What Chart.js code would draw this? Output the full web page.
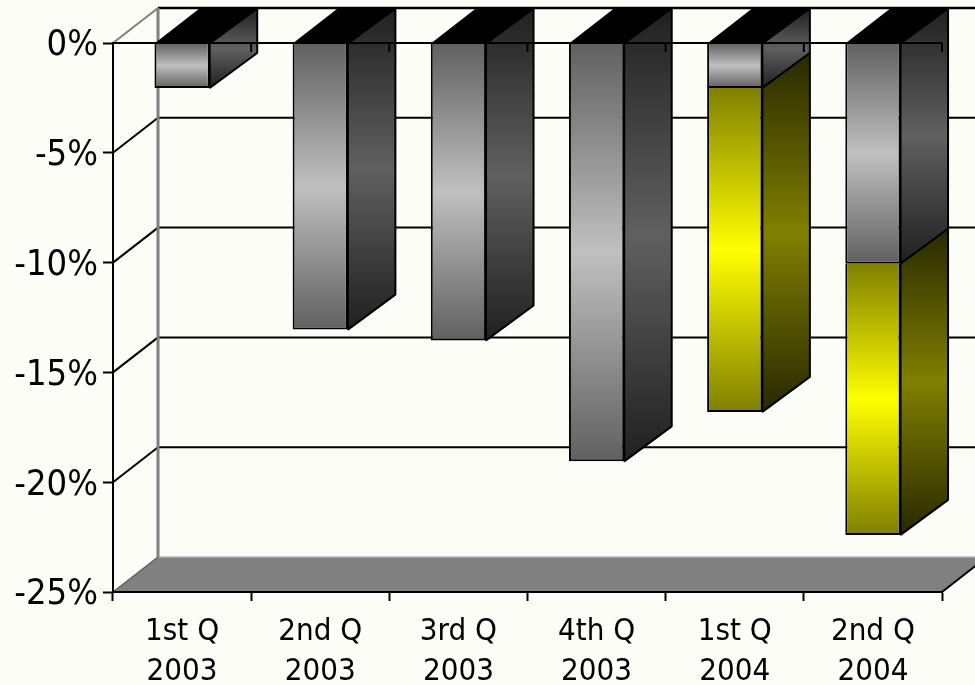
<!DOCTYPE html>
<html>
<head>
<meta charset="utf-8">
<title>Quarterly change</title>
<style>
  html, body { margin: 0; padding: 0; background: #fcfdf7; overflow: hidden; }
  canvas { display: block; }
</style>
<script src="https://cdn.jsdelivr.net/npm/chart.js@4"></script>
</head>
<body>
<canvas id="myChart" width="975" height="685"></canvas>
<script>
'use strict';

let quarters = ['1st Q', '2nd Q', '3rd Q', '4th Q', '1st Q', '2nd Q'];
let years = ['2003', '2003', '2003', '2003', '2004', '2004'];
let grayValues = [-2.05, -13.05, -13.55, -19.05, -2.05, -10.05];
let yellowValues = [null, null, null, null, -14.75, -12.35];
let yTickLabels = ['-25%', '-20%', '-15%', '-10%', '-5%', '0%'];

let labels = quarters.map((q, i) => [q, years[i]]);

// fake 3d depth of the chart, back plane is shifted by this much
let depthLeft = 45;
let depthRight = 47.5;
let depthY = 35;

let grayFront = ['#606060', '#c0c0c0'];
let graySide = ['#202020', '#606060'];
let yellowFront = ['#808000', '#ffff00'];
let yellowSide = ['#282800', '#808000'];

function makeGradient(ctx, top, bottom, colors) {
  let g = ctx.createLinearGradient(0, top, 0, bottom);
  g.addColorStop(0, colors[0]);
  g.addColorStop(0.5, colors[1]);
  g.addColorStop(1, colors[0]);
  return g;
}

// front face gradient, goes over the height of that one bar
function frontFill(colors) {
  return function (context) {
    let chart = context.chart;
    let y = chart.scales.y;
    let start = 0;
    if (context.datasetIndex === 1) {
      start = grayValues[context.dataIndex];
    }
    let value = context.dataset.data[context.dataIndex] || 0;
    let top = y.getPixelForValue(start);
    let bottom = y.getPixelForValue(start + value);
    // scales have no size yet on the very first reset
    if (!isFinite(top) || !isFinite(bottom)) {
      return colors[0];
    }
    return makeGradient(chart.ctx, top, bottom, colors);
  };
}

function polygon(ctx, points, fill, stroke, lineWidth) {
  ctx.beginPath();
  ctx.moveTo(points[0][0], points[0][1]);
  for (let i = 1; i < points.length; i++) {
    ctx.lineTo(points[i][0], points[i][1]);
  }
  ctx.closePath();
  if (fill) {
    ctx.fillStyle = fill;
    ctx.fill();
  }
  if (stroke) {
    ctx.strokeStyle = stroke;
    ctx.lineWidth = lineWidth;
    ctx.stroke();
  }
}

function line(ctx, x1, y1, x2, y2, color, lineWidth) {
  ctx.beginPath();
  ctx.moveTo(x1, y1);
  ctx.lineTo(x2, y2);
  ctx.strokeStyle = color;
  ctx.lineWidth = lineWidth;
  ctx.stroke();
}

// back wall, side wall and floor
let wallPlugin = {
  id: 'walls',
  beforeDraw(chart) {
    let ctx = chart.ctx;
    let area = chart.chartArea;
    let y = chart.scales.y;
    let backX = area.left + depthLeft;
    let farRight = area.right + depthLeft;
    ctx.save();

    polygon(ctx, [
      [area.left, area.bottom],
      [backX, area.bottom - depthY],
      [farRight, area.bottom - depthY],
      [area.right, area.bottom]
    ], '#808080');
    line(ctx, backX, area.bottom - depthY, farRight, area.bottom - depthY, '#b4b4b0', 1.5);
    line(ctx, area.right, area.bottom, farRight, area.bottom - depthY, '#000000', 2);

    y.ticks.forEach(function (tick) {
      let py = y.getPixelForValue(tick.value);
      if (tick.value === -25) {
        return;
      }
      let top = tick.value === 0;
      line(ctx, backX, py - depthY, farRight, py - depthY, '#000000', top ? 2.5 : 2);
      line(ctx, area.left, py, backX, py - depthY, top ? '#808080' : '#000000', 2);
    });

    line(ctx, area.left, area.bottom, backX, area.bottom - depthY, '#606060', 1.5);
    line(ctx, backX, y.getPixelForValue(0) - depthY, backX, area.bottom - depthY, '#808080', 3);
    ctx.restore();
  },

  // side and top faces have to sit behind the front rectangle
  beforeDatasetsDraw(chart) {
    let ctx = chart.ctx;
    ctx.save();
    ctx.lineJoin = 'bevel';
    let sides = [graySide, yellowSide];
    sides.forEach(function (colors, d) {
      chart.getDatasetMeta(d).data.forEach(function (bar, i) {
        let value = chart.data.datasets[d].data[i];
        if (value === null) {
          return;
        }
        let left = bar.x - bar.width / 2;
        let right = bar.x + bar.width / 2;
        let top = bar.base;
        let bottom = bar.y;
        let fill = makeGradient(ctx, top - depthY, bottom, colors);
        polygon(ctx, [
          [right, top],
          [right + depthRight, top - depthY],
          [right + depthRight, bottom - depthY],
          [right, bottom]
        ], fill, '#000000', 2);
        if (d === 0) {
          polygon(ctx, [
            [left, top],
            [left + depthLeft, top - depthY],
            [right + depthRight, top - depthY],
            [right, top]
          ], '#000000');
        }
      });
    });
    ctx.restore();
  },

  // the category axis crosses at 0%, its line and ticks lie over the bars
  afterDatasetsDraw(chart) {
    let ctx = chart.ctx;
    let area = chart.chartArea;
    let x = chart.scales.x;
    let zero = chart.scales.y.getPixelForValue(0);
    let step = (x.getPixelForValue(1) - x.getPixelForValue(0));
    ctx.save();
    line(ctx, area.left, zero, area.right, zero, '#000000', 2);
    for (let i = 0; i <= labels.length; i++) {
      let px = x.getPixelForValue(i) - step / 2;
      line(ctx, px, zero, px, zero + 9, '#000000', 2);
    }
    ctx.restore();
  }
};

let data = {
  labels: labels,
  datasets: [
    {
      label: 'gray',
      data: grayValues,
      backgroundColor: frontFill(grayFront),
      borderColor: '#000000',
      borderWidth: 2
    },
    {
      label: 'yellow',
      data: yellowValues,
      backgroundColor: frontFill(yellowFront),
      borderColor: '#000000',
      borderWidth: 2
    }
  ]
};

let config = {
  type: 'bar',
  data: data,
  plugins: [wallPlugin],
  options: {
    responsive: false,
    animation: false,
    layout: {
      padding: { top: 43, right: 33, left: 0, bottom: 0 }
    },
    plugins: {
      legend: { display: false },
      title: { display: false },
      tooltip: { enabled: false }
    },
    datasets: {
      bar: { barPercentage: 0.4, categoryPercentage: 1 }
    },
    scales: {
      x: {
        stacked: true,
        afterFit(scale) { scale.height = 93; },
        grid: { display: true, drawOnChartArea: false, tickLength: 9, tickColor: '#000000', tickWidth: 2 },
        border: { color: '#000000', width: 2 },
        ticks: {
          color: '#000000',
          maxRotation: 0,
          padding: 11,
          font: { family: '"DejaVu Sans Condensed", "Noto Sans"', size: 31, lineHeight: 1.3 }
        }
      },
      y: {
        stacked: true,
        min: -25,
        max: 0,
        afterFit(scale) { scale.width = 113; },
        grid: { display: true, drawOnChartArea: false, tickLength: 10, tickColor: '#000000', tickWidth: 2 },
        border: { color: '#000000', width: 2 },
        ticks: {
          stepSize: 5,
          color: '#000000',
          padding: 5,
          labelOffset: 3,
          font: { family: '"DejaVu Sans Condensed", "Noto Sans"', size: 36 },
          callback(value, index) { return yTickLabels[index]; }
        }
      }
    }
  }
};

let myChart = new Chart(document.getElementById('myChart'), config);
</script>
</body>
</html>
